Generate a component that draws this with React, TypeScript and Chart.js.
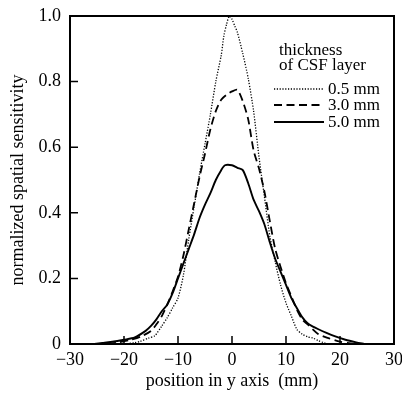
import React, { useEffect, useRef } from "react";
import { Chart, registerables } from "chart.js";

Chart.register(...registerables);

const FONT = "'Liberation Serif', 'Times New Roman', serif";

const seriesLabels = ["0.5 mm", "3.0 mm", "5.0 mm"];
const legendTitle = ["thickness", "of CSF layer"];
const xTicks = [-30, -20, -10, 0, 10, 20, 30];
const yTicks = [0, 0.2, 0.4, 0.6, 0.8, 1.0];
const xTitle = "position in y axis  (mm)";
const yTitle = "normalized spatial sensitivity";

// 0.5 mm (dotted)
const x05 = [-20, -18, -17, -15.5, -14.3, -13, -12, -11, -10, -9, -8, -7, -6, -5, -4, -3, -2, -1.5, -1, -0.5, 0, 0.5, 1, 2, 3, 4, 5, 6, 7, 8, 9, 10, 11, 12, 13, 14, 15, 16, 17, 18];
const y05 = [0, 0.004, 0.008, 0.018, 0.025, 0.055, 0.08, 0.11, 0.14, 0.21, 0.32, 0.42, 0.52, 0.61, 0.7, 0.8, 0.88, 0.94, 0.975, 1.0, 0.99, 0.97, 0.95, 0.885, 0.81, 0.71, 0.57, 0.45, 0.33, 0.25, 0.18, 0.125, 0.085, 0.045, 0.03, 0.022, 0.018, 0.01, 0.004, 0];

// 3.0 mm (dashed)
const x30 = [-23, -21, -19, -17, -15, -14, -13, -12, -11, -10, -9, -8, -7, -6, -5, -4, -3, -2, -1, 0, 1, 2, 3, 4, 5, 6, 7, 8, 9, 10, 11, 12, 13, 14, 16, 18, 20, 22, 23];
const y30 = [0, 0.005, 0.012, 0.022, 0.04, 0.06, 0.085, 0.12, 0.16, 0.205, 0.27, 0.35, 0.43, 0.51, 0.58, 0.655, 0.71, 0.745, 0.76, 0.77, 0.775, 0.74, 0.685, 0.59, 0.535, 0.465, 0.375, 0.29, 0.235, 0.185, 0.145, 0.105, 0.075, 0.06, 0.03, 0.017, 0.007, 0.002, 0];

// 5.0 mm (solid)
const x50 = [-25.5, -24, -22.5, -20, -18, -16, -15, -14, -13, -12, -11, -10, -9, -8, -7, -6, -5, -4, -3, -2, -1.3, 0, 1, 2, 3, 4, 5, 6, 7, 8, 9, 10, 11, 12, 13, 14, 15, 16, 17.5, 19, 21, 23, 24.5];
const y50 = [0, 0.003, 0.006, 0.013, 0.02, 0.04, 0.055, 0.075, 0.1, 0.12, 0.155, 0.2, 0.245, 0.29, 0.335, 0.385, 0.425, 0.46, 0.5, 0.53, 0.545, 0.545, 0.537, 0.53, 0.49, 0.44, 0.405, 0.365, 0.31, 0.26, 0.22, 0.18, 0.14, 0.11, 0.082, 0.063, 0.053, 0.045, 0.034, 0.024, 0.013, 0.005, 0];

const lineStyles = [
  { borderWidth: 1.3, borderDash: [1.2, 1.6] },
  { borderWidth: 1.8, borderDash: [8, 4.5] },
  { borderWidth: 1.9, borderDash: [] as number[] },
];

const toPoints = (xs: number[], ys: number[]) => xs.map((x, i) => ({ x, y: ys[i] }));

const framePlugin = {
  id: "frameTicksLegend",
  afterDraw(chart: any) {
    const { ctx, chartArea: a, scales } = chart;
    ctx.save();
    ctx.strokeStyle = "#000";
    ctx.setLineDash([]);
    ctx.lineWidth = 2;
    ctx.strokeRect(a.left, a.top, a.right - a.left, a.bottom - a.top);
    ctx.lineWidth = 1.5;
    ctx.beginPath();
    yTicks.slice(1, -1).forEach((v) => {
      const y = scales.y.getPixelForValue(v);
      ctx.moveTo(a.left, y);
      ctx.lineTo(a.left + 8, y);
    });
    xTicks.slice(1, -1).forEach((v) => {
      const x = scales.x.getPixelForValue(v);
      ctx.moveTo(x, a.bottom);
      ctx.lineTo(x, a.bottom - 8);
    });
    ctx.stroke();

    // legend
    ctx.fillStyle = "#000";
    ctx.font = `17px ${FONT}`;
    ctx.textBaseline = "alphabetic";
    ctx.textAlign = "left";
    ctx.fillText(legendTitle[0], 279, 55);
    ctx.fillText(legendTitle[1], 279, 70);
    const rows = [89, 105, 122];
    chart.data.datasets.forEach((ds: any, i: number) => {
      const y = rows[i];
      ctx.save();
      ctx.lineWidth = ds.borderWidth;
      ctx.setLineDash(ds.borderDash || []);
      ctx.beginPath();
      ctx.moveTo(274, y);
      ctx.lineTo(324, y);
      ctx.stroke();
      ctx.restore();
      ctx.textBaseline = "middle";
      ctx.fillText(ds.label, 328, y + 1);
    });
    ctx.restore();
  },
};

export default function App() {
  const canvasRef = useRef<HTMLCanvasElement | null>(null);

  useEffect(() => {
    if (!canvasRef.current) return;
    const datasets = [
      [x05, y05],
      [x30, y30],
      [x50, y50],
    ].map(([xs, ys], i) => ({
      label: seriesLabels[i],
      data: toPoints(xs, ys),
      borderColor: "#000",
      backgroundColor: "#000",
      borderWidth: lineStyles[i].borderWidth,
      borderDash: lineStyles[i].borderDash,
      pointRadius: 0,
      tension: 0.25,
      fill: false,
    }));

    const chart = new Chart(canvasRef.current, {
      type: "line",
      data: { datasets },
      options: {
        animation: false,
        responsive: false,
        maintainAspectRatio: false,
        layout: { padding: { left: 0, top: 16, right: 8, bottom: 0 } },
        plugins: { legend: { display: false }, tooltip: { enabled: false } },
        scales: {
          x: {
            type: "linear",
            min: -30,
            max: 30,
            grid: { display: false, drawTicks: false },
            border: { display: false },
            ticks: {
              stepSize: 10,
              color: "#000",
              padding: 5,
              maxRotation: 0,
              font: { family: FONT, size: 18 },
              callback: (v: any) => (v < 0 ? "\u2212" + Math.abs(v) : String(v)),
            },
            title: {
              display: true,
              text: xTitle,
              color: "#000",
              font: { family: FONT, size: 18 },
              padding: { top: 0, bottom: 2 },
            },
            afterFit: (s: any) => {
              s.height = 50;
              s.paddingLeft = 0;
              s.paddingRight = 0;
            },
          },
          y: {
            type: "linear",
            min: 0,
            max: 1,
            grid: { display: false, drawTicks: false },
            border: { display: false },
            ticks: {
              stepSize: 0.2,
              color: "#000",
              padding: 9,
              font: { family: FONT, size: 18 },
              callback: (v: any) => (Math.abs(v) < 1e-9 ? "0" : Number(v).toFixed(1)),
            },
            title: {
              display: true,
              text: yTitle,
              color: "#000",
              font: { family: FONT, size: 18 },
              padding: { top: 7, bottom: 0 },
            },
            afterFit: (s: any) => {
              s.width = 70;
              s.paddingTop = 0;
              s.paddingBottom = 0;
            },
          },
        },
      },
      plugins: [framePlugin],
    } as any);
    return () => chart.destroy();
  }, []);

  return (
    <div style={{ position: "absolute", left: 0, top: 0, width: 402, height: 394, background: "#fff" }}>
      <canvas ref={canvasRef} width={402} height={394} style={{ display: "block" }} />
    </div>
  );
}
